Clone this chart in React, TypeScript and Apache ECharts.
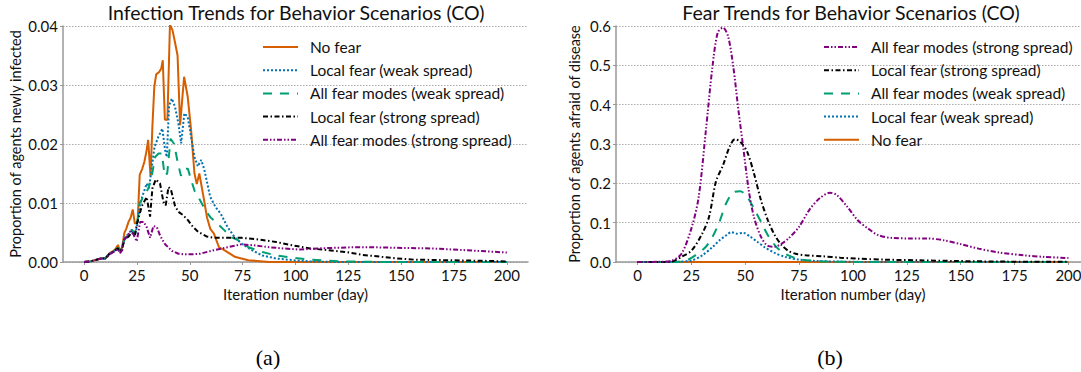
import React, { useEffect, useRef } from "react";
import * as echarts from "echarts";

// ---------- data ----------
const xTicks = [0, 25, 50, 75, 100, 125, 150, 175, 200];
const seriesNames = [
  "No fear",
  "Local fear (weak spread)",
  "All fear modes (weak spread)",
  "Local fear (strong spread)",
  "All fear modes (strong spread)",
];
const rightLegendOrder = [
  "All fear modes (strong spread)",
  "Local fear (strong spread)",
  "All fear modes (weak spread)",
  "Local fear (weak spread)",
  "No fear",
];

// (a) Infection: [day, proportion newly infected]
const infNoFear: number[][] = [
  [0, 0], [3, 0.0001], [5, 0.0003], [8, 0.0006], [10, 0.0007], [11, 0.0009], [12, 0.0015], [14, 0.0019],
  [15, 0.0023], [16, 0.0029], [17, 0.0019], [18, 0.0025], [19, 0.0049], [20, 0.0057], [21, 0.0068],
  [22, 0.0075], [23, 0.0089], [24, 0.0065], [25.3, 0.0068], [26.3, 0.0148], [27.5, 0.0158], [28.5, 0.0170],
  [29.5, 0.0188], [30.3, 0.0207], [31.4, 0.0146], [32.3, 0.0230], [33.2, 0.0297], [34.1, 0.0318],
  [35.5, 0.0322], [36.5, 0.0328], [37.2, 0.0342], [38.2, 0.0241], [39.4, 0.0241], [40.6, 0.0402],
  [41.8, 0.0393], [43, 0.0372], [44.2, 0.0350], [45.4, 0.0232], [47.3, 0.0314], [49, 0.0280],
  [50.6, 0.0224], [52.2, 0.0150], [53.3, 0.0132], [54.5, 0.0150], [56.5, 0.0110], [58.1, 0.0076],
  [59.7, 0.0056], [61.4, 0.0048], [63.8, 0.0025], [66.3, 0.0020], [71.2, 0.0009], [77.7, 0.0003],
  [87.6, 0.0], [200, 0],
];
const infLocalWeak: number[][] = [
  [0, 0], [3, 0.0001], [5, 0.0003], [8, 0.0006], [10, 0.0006], [12, 0.0014], [14, 0.0018], [16, 0.0024],
  [17, 0.0018], [18, 0.0024], [19, 0.0040], [21, 0.0048], [22.5, 0.0055], [24, 0.0045], [25, 0.0060],
  [26.5, 0.0099], [28, 0.0116], [29.6, 0.0133], [30.7, 0.0125], [32, 0.0160], [33.3, 0.0195],
  [35.1, 0.0212], [37, 0.0226], [38.3, 0.0190], [39.1, 0.0178], [40.2, 0.0265], [41.5, 0.0277],
  [43, 0.0263], [44.6, 0.0235], [45.9, 0.0201], [47.4, 0.0252], [49, 0.0246], [50.6, 0.0212],
  [52.2, 0.0178], [53.8, 0.0162], [55.4, 0.0173], [56.9, 0.0156], [59.6, 0.0111], [62, 0.0094],
  [64.6, 0.0082], [67.9, 0.0059], [71.2, 0.0042], [74.5, 0.0031], [79.4, 0.0020], [84.3, 0.0011],
  [90.8, 0.0006], [99, 0.0003], [107, 0.0001], [120, 0], [200, 0],
];
const infAllWeak: number[][] = [
  [0, 0], [3, 0.0001], [5, 0.0003], [8, 0.0006], [10, 0.0006], [12, 0.0014], [14, 0.0018], [16, 0.0024],
  [17, 0.0017], [18, 0.0022], [19, 0.0038], [21, 0.0045], [22.5, 0.0055], [24, 0.0048], [25, 0.0062],
  [26.2, 0.0099], [28, 0.0110], [30.3, 0.0124], [31.9, 0.0144], [33.6, 0.0178], [35.2, 0.0184],
  [36.8, 0.0184], [38.1, 0.0146], [39.3, 0.0150], [40.9, 0.0209], [42.6, 0.0200], [44.2, 0.0170],
  [45.8, 0.0146], [47.5, 0.0158], [49.1, 0.0158], [50.7, 0.0138], [52.4, 0.0119], [54.8, 0.0105],
  [57.3, 0.0088], [59.7, 0.0076], [63, 0.0065], [66.3, 0.0054], [69.6, 0.0042], [72.8, 0.0037],
  [77.7, 0.0025], [84.3, 0.0017], [90.8, 0.0011], [99, 0.0007], [107, 0.0004], [115.4, 0.0002],
  [123.6, 0.0001], [140, 0], [200, 0],
];
const infLocalStrong: number[][] = [
  [0, 0], [3, 0.0001], [5, 0.0003], [8, 0.0006], [10, 0.0006], [12, 0.0014], [14, 0.0018], [16, 0.0023],
  [17, 0.0018], [18, 0.0023], [19, 0.0038], [21, 0.0043], [22.5, 0.0050], [24, 0.0045], [25, 0.0065],
  [27.3, 0.0095], [29.6, 0.0110], [31.2, 0.0077], [32.3, 0.0125], [33.9, 0.0140], [35.9, 0.0133],
  [37.5, 0.0102], [38.6, 0.0096], [39.9, 0.0127], [41.1, 0.0122], [43, 0.0095], [44.6, 0.0085],
  [46.6, 0.0080], [49.1, 0.0071], [51.6, 0.0059], [54, 0.0051], [58.1, 0.0043], [61.4, 0.0041],
  [74.5, 0.0041], [82.7, 0.0038], [90.8, 0.0034], [99, 0.0028], [107, 0.0023], [115.4, 0.0020],
  [123.6, 0.0017], [131.8, 0.0012], [140, 0.0009], [148, 0.0006], [156, 0.0004], [172.7, 0.0003],
  [189, 0.0002], [200, 0.0001],
];
const infAllStrong: number[][] = [
  [0, 0], [3, 0.0001], [5, 0.0003], [8, 0.0006], [10, 0.0006], [12, 0.0013], [14, 0.0017], [16, 0.0022],
  [17, 0.0015], [18, 0.0020], [19, 0.0038], [20.5, 0.0045], [22.5, 0.0053], [23.8, 0.0043], [24.9, 0.0035],
  [26.5, 0.0068], [28.1, 0.0068], [29.6, 0.0059], [31.2, 0.0041], [32.8, 0.0061], [34.4, 0.0059],
  [35.9, 0.0045], [38.3, 0.0030], [41.5, 0.0019], [44.6, 0.0014], [47.8, 0.0013], [50.9, 0.0013],
  [54.8, 0.0014], [61.4, 0.0020], [67.9, 0.0025], [74.5, 0.0030], [81, 0.0028], [87.6, 0.0025],
  [94.1, 0.0023], [102.3, 0.0021], [110.5, 0.0023], [118.7, 0.0024], [126.8, 0.0025], [136.7, 0.0025],
  [148, 0.0024], [164.5, 0.0023], [180.9, 0.0020], [200, 0.0016],
];

// (b) Fear: [day, proportion afraid]
const fearNoFear: number[][] = [[0, 0], [200, 0]];
const fearLocalWeak: number[][] = [
  [0, 0], [15, 0], [20, 0.001], [25.2, 0.004], [30, 0.017], [34.8, 0.038], [38, 0.055], [41.2, 0.068],
  [43.6, 0.076], [46, 0.072], [49.2, 0.074], [52.4, 0.064], [55.7, 0.051], [58.9, 0.038], [63.7, 0.023],
  [68.5, 0.013], [74.9, 0.006], [82.9, 0.0026], [94, 0.001], [110, 0], [200, 0],
];
const fearAllWeak: number[][] = [
  [0, 0], [15, 0], [22, 0.0026], [26.8, 0.017], [31.6, 0.038], [34.8, 0.064], [38, 0.102], [41.2, 0.150],
  [44.4, 0.177], [47.6, 0.180], [50.8, 0.166], [54, 0.136], [57.3, 0.102], [60.5, 0.068], [63.7, 0.043],
  [66.9, 0.026], [71.7, 0.013], [76.5, 0.006], [82.9, 0.0026], [90.9, 0.001], [105, 0], [200, 0],
];
const fearLocalStrong: number[][] = [
  [0, 0], [12, 0], [15.6, 0.001], [20.4, 0.013], [25.2, 0.030], [30, 0.072], [33.2, 0.115],
  [36.4, 0.205], [39.6, 0.245], [42.8, 0.294], [45.2, 0.312], [47.6, 0.306], [50.8, 0.281], [54, 0.226],
  [57.3, 0.157], [60.5, 0.106], [63.7, 0.068], [66.9, 0.043], [70.1, 0.028], [73.3, 0.021],
  [78.1, 0.017], [86.1, 0.0145], [94.1, 0.011], [102.2, 0.0085], [115, 0.006], [131, 0.0043],
  [147, 0.0026], [171, 0.001], [200, 0.0005],
];
const fearAllStrong: number[][] = [
  [0, 0], [10, 0.0005], [15.6, 0.003], [20.4, 0.021], [25.2, 0.089], [28.4, 0.166], [31.6, 0.328],
  [34.8, 0.498], [37.2, 0.583], [39.6, 0.596], [42, 0.574], [44.4, 0.498], [46.8, 0.387], [49.2, 0.285],
  [51.6, 0.183], [54, 0.115], [57.3, 0.064], [60.5, 0.041], [63.7, 0.039], [66.9, 0.047], [70.1, 0.060],
  [74.9, 0.089], [79.7, 0.132], [84.5, 0.162], [89.3, 0.176], [92.5, 0.170], [97.4, 0.140],
  [102.2, 0.106], [107, 0.085], [111.8, 0.068], [118.2, 0.061], [126.2, 0.060], [134.2, 0.060],
  [142.3, 0.055], [150.3, 0.045], [158.3, 0.034], [167.9, 0.024], [179.2, 0.017], [188.8, 0.013],
  [200, 0.010],
];

// ---------- styles ----------
const FONT = "Lato, 'Open Sans', sans-serif";
const colors: Record<string, string> = {
  "No fear": "#d55e00",
  "Local fear (weak spread)": "#0072b2",
  "All fear modes (weak spread)": "#009e73",
  "Local fear (strong spread)": "#000000",
  "All fear modes (strong spread)": "#800080",
};
const dashes: Record<string, any> = {
  "No fear": "solid",
  "Local fear (weak spread)": [2, 2],
  "All fear modes (weak spread)": [9, 8],
  "Local fear (strong spread)": [5, 2.5, 1.5, 2.5],
  "All fear modes (strong spread)": [5, 2, 1.5, 2, 1.5, 2],
};

function lineSeries(name: string, data: number[][], idx: number, smooth: boolean) {
  return {
    type: "line",
    name,
    data,
    xAxisIndex: idx,
    yAxisIndex: idx,
    symbol: "none",
    smooth: smooth ? 0.3 : false,
    color: colors[name],
    lineStyle: { color: colors[name], width: 2, type: dashes[name] },
  };
}

function xAxisCfg(idx: number) {
  return {
    type: "value",
    gridIndex: idx,
    min: -10,
    max: 210,
    splitLine: { show: false },
    axisLine: { lineStyle: { color: "#999", width: 1.5 } },
    axisTick: { customValues: xTicks, length: 3, lineStyle: { color: "#999" } },
    axisLabel: { customValues: xTicks, fontSize: 15, color: "#111", fontFamily: FONT, margin: 5 },
    name: "Iteration number (day)",
    nameLocation: "middle",
    nameGap: 21,
    nameTextStyle: { fontSize: 15, color: "#111", fontFamily: FONT },
  };
}

function yAxisCfg(idx: number, max: number, interval: number, digits: number, name: string, gap: number) {
  return {
    type: "value",
    gridIndex: idx,
    min: 0,
    max,
    interval,
    axisLine: { show: true, onZero: false, lineStyle: { color: "#999", width: 1.5 } },
    axisTick: { show: true, length: 3, lineStyle: { color: "#999" } },
    axisLabel: {
      fontSize: 15,
      color: "#111",
      fontFamily: FONT,
      margin: 5,
      formatter: (v: number) => v.toFixed(digits),
    },
    splitLine: { show: true, lineStyle: { color: "#aaa", type: [1.5, 1.5], width: 1 } },
    name,
    nameLocation: "middle",
    nameGap: gap,
    nameTextStyle: { fontSize: 14.5, color: "#111", fontFamily: FONT },
  };
}

function legendCfg(left: number, data: string[]) {
  return {
    orient: "vertical",
    left,
    top: 39,
    padding: 0,
    itemWidth: 35,
    itemHeight: 14,
    itemGap: 7.2,
    itemStyle: { opacity: 0 },
    data,
    textStyle: { fontSize: 15.5, color: "#111", fontFamily: FONT, padding: [0, 0, 0, 7] },
  };
}

export default function App() {
  const ref = useRef<HTMLDivElement>(null);
  useEffect(() => {
    if (!ref.current) return;
    const chart = echarts.init(ref.current, null, { renderer: "svg" });
    const infData = [infNoFear, infLocalWeak, infAllWeak, infLocalStrong, infAllStrong];
    const fearData = [fearNoFear, fearLocalWeak, fearAllWeak, fearLocalStrong, fearAllStrong];
    chart.setOption({
      animation: false,
      backgroundColor: "#fff",
      title: [
        {
          text: "Infection Trends for Behavior Scenarios (CO)",
          left: 296,
          top: 2,
          padding: 0,
          textAlign: "center",
          textStyle: { fontSize: 19.5, fontWeight: "normal", color: "#111", fontFamily: FONT },
        },
        {
          text: "Fear Trends for Behavior Scenarios (CO)",
          left: 851,
          top: 2,
          padding: 0,
          textAlign: "center",
          textStyle: { fontSize: 19.5, fontWeight: "normal", color: "#111", fontFamily: FONT },
        },
      ],
      grid: [
        { left: 63, top: 26, width: 465, height: 236 },
        { left: 616, top: 26, width: 474, height: 236 },
      ],
      xAxis: [xAxisCfg(0), xAxisCfg(1)],
      yAxis: [
        yAxisCfg(0, 0.04, 0.01, 2, "Proportion of agents newly infected", 40),
        yAxisCfg(1, 0.6, 0.1, 1, "Proportion of agents afraid of disease", 34),
      ],
      legend: [legendCfg(262, seriesNames), legendCfg(823, rightLegendOrder)],
      series: [
        ...seriesNames.map((n, i) => lineSeries(n, infData[i], 0, false)),
        ...seriesNames.map((n, i) => lineSeries(n, fearData[i], 1, true)),
      ],
      graphic: [
        {
          type: "text",
          x: 268,
          y: 357,
          style: { text: "(a)", fontSize: 22, fontFamily: "'Liberation Serif', serif", fill: "#000", align: "center", verticalAlign: "middle" },
        },
        {
          type: "text",
          x: 830,
          y: 357,
          style: { text: "(b)", fontSize: 22, fontFamily: "'Liberation Serif', serif", fill: "#000", align: "center", verticalAlign: "middle" },
        },
      ],
    });
    return () => chart.dispose();
  }, []);
  return (
    <div
      style={{ position: "absolute", left: 0, top: 0, width: 1081, height: 372, overflow: "hidden", background: "#fff" }}
    >
      <div ref={ref} style={{ width: 1100, height: 372 }} />
    </div>
  );
}
